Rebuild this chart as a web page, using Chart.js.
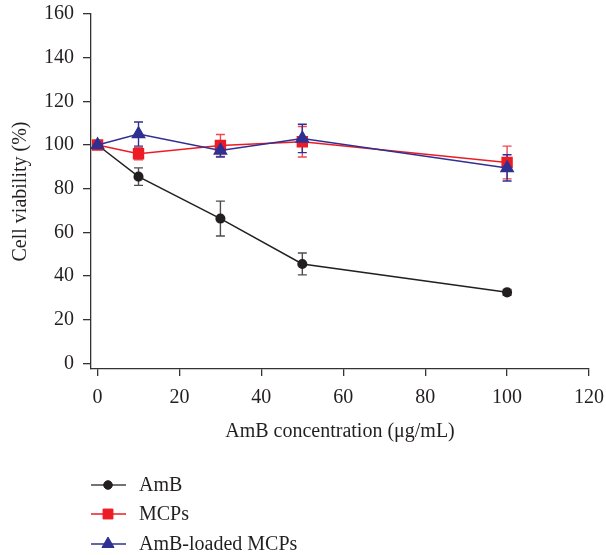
<!DOCTYPE html>
<html>
<head>
<meta charset="utf-8">
<script src="https://cdn.jsdelivr.net/npm/chart.js@4.4.1/dist/chart.umd.min.js"></script>
<style>
  html, body { margin: 0; padding: 0; background: #fff; }
  #wrap { width: 606px; height: 555px; position: relative; }
</style>
</head>
<body>
<div id="wrap"><canvas id="viabilityChart"></canvas></div>
<script>
// concentrations (ug/mL)
const concentrations = [0, 10, 30, 50, 100];
const xTicks = [0, 20, 40, 60, 80, 100, 120];
const yTicks = [0, 20, 40, 60, 80, 100, 120, 140, 160];

// cell viability (%) and SD
const amb = [100, 85.5, 66.3, 45.5, 32.5];
const ambErr = [1, 4, 8, 5, 1.3];
const mcps = [100, 96, 99.8, 101.5, 92];
const mcpsErr = [1.2, 2.8, 5, 7, 7.5];
const loaded = [100, 105, 97.5, 103, 89.5];
const loadedErr = [1, 5.5, 3, 6.5, 6];

const seriesNames = ["AmB", "MCPs", "AmB-loaded MCPs"];
const textColor = "#231f20";
const serif = "'Liberation Serif', 'DejaVu Serif', serif";

function toPoints(values) {
  return concentrations.map((x, i) => ({ x: x, y: values[i] }));
}

// Draw vertical error bars with caps under the markers
const errorBars = {
  id: "errorBars",
  beforeDatasetsDraw(chart) {
    const ctx = chart.ctx;
    const xs = chart.scales.x;
    const ys = chart.scales.y;
    chart.data.datasets.forEach((ds) => {
      ctx.save();
      ctx.strokeStyle = ds.errColor;
      ctx.lineWidth = 1.4;
      ds.data.forEach((p, i) => {
        const e = ds.errors[i];
        const px = xs.getPixelForValue(p.x);
        const top = ys.getPixelForValue(p.y + e);
        const bot = ys.getPixelForValue(p.y - e);
        ctx.beginPath();
        ctx.moveTo(px, top);
        ctx.lineTo(px, bot);
        ctx.moveTo(px - 4.5, top);
        ctx.lineTo(px + 4.5, top);
        ctx.moveTo(px - 4.5, bot);
        ctx.lineTo(px + 4.5, bot);
        ctx.stroke();
      });
      ctx.restore();
    });
  }
};

// Legend below the plot: line with marker, then label
const lineLegend = {
  id: "lineLegend",
  afterDraw(chart) {
    const ctx = chart.ctx;
    const rows = [485, 514, 544];
    chart.data.datasets.forEach((ds, i) => {
      const y = rows[i];
      ctx.save();
      ctx.strokeStyle = ds.legendLine;
      ctx.lineWidth = 1.5;
      ctx.beginPath();
      ctx.moveTo(91, y);
      ctx.lineTo(126, y);
      ctx.stroke();
      ctx.fillStyle = ds.pointBackgroundColor;
      ctx.strokeStyle = ds.pointBackgroundColor;
      ctx.lineWidth = 1;
      Chart.helpers.drawPoint(ctx, { pointStyle: ds.pointStyle, radius: ds.pointRadius, borderWidth: 1 }, 108, y);
      ctx.fillStyle = textColor;
      ctx.font = "20px " + serif;
      ctx.textBaseline = "middle";
      ctx.fillText(ds.label, 139, y + 1);
      ctx.restore();
    });
  }
};

const ctx = document.getElementById("viabilityChart").getContext("2d");
new Chart(ctx, {
  type: "line",
  data: {
    datasets: [
      {
        label: seriesNames[0],
        data: toPoints(amb),
        errors: ambErr,
        errColor: "#4d4d4d",
        legendLine: "#444",
        borderColor: "#231f20",
        pointBackgroundColor: "#231f20",
        pointBorderColor: "#231f20",
        pointStyle: "circle",
        pointRadius: 4.3,
        borderWidth: 1.5,
        order: 2
      },
      {
        label: seriesNames[1],
        data: toPoints(mcps),
        errors: mcpsErr,
        errColor: "#f0484e",
        legendLine: "#ed1c24",
        borderColor: "#ed1c24",
        pointBackgroundColor: "#ed1c24",
        pointBorderColor: "#ed1c24",
        pointStyle: "rect",
        pointRadius: 7,
        borderWidth: 1.5,
        order: 1
      },
      {
        label: seriesNames[2],
        data: toPoints(loaded),
        errors: loadedErr,
        errColor: "#2e3192",
        legendLine: "#2e3192",
        borderColor: "#2e3192",
        pointBackgroundColor: "#2e3192",
        pointBorderColor: "#2e3192",
        pointStyle: "triangle",
        pointRadius: 7,
        borderWidth: 1.5,
        order: 0
      }
    ]
  },
  options: {
    responsive: true,
    maintainAspectRatio: false,
    animation: false,
    layout: { padding: { top: 14, right: 17, left: 0, bottom: 111 } },
    plugins: {
      legend: { display: false },
      tooltip: { enabled: false }
    },
    scales: {
      x: {
        type: "linear",
        min: -1.6,
        max: 120,
        afterBuildTicks: (scale) => { scale.ticks = xTicks.map((v) => ({ value: v })); },
        afterFit: (scale) => {
          scale.height = 75;
          scale.paddingLeft = 0;
          scale.paddingRight = 0;
        },
        border: { display: true, color: "#333", width: 1.3 },
        grid: { display: true, drawOnChartArea: false, drawTicks: true, tickLength: 7, color: "#333", lineWidth: 1.3 },
        ticks: { color: textColor, font: { family: serif, size: 20 }, padding: 10, maxRotation: 0 },
        title: { display: true, text: "AmB concentration (μg/mL)", color: textColor, font: { family: serif, size: 20 }, padding: { top: 0, bottom: 0 } }
      },
      y: {
        type: "linear",
        min: -2.6,
        max: 160,
        afterBuildTicks: (scale) => { scale.ticks = yTicks.map((v) => ({ value: v })); },
        afterFit: (scale) => {
          scale.width = 91;
          scale.paddingTop = 0;
          scale.paddingBottom = 0;
        },
        border: { display: true, color: "#333", width: 1.3 },
        grid: { display: true, drawOnChartArea: false, drawTicks: true, tickLength: 8, color: "#333", lineWidth: 1.3 },
        ticks: { color: textColor, font: { family: serif, size: 20 }, padding: 9 },
        title: { display: true, text: "Cell viability (%)", color: textColor, font: { family: serif, size: 20 }, padding: { top: 9, bottom: 0 } }
      }
    }
  },
  plugins: [errorBars, lineLegend]
});
</script>
</body>
</html>
